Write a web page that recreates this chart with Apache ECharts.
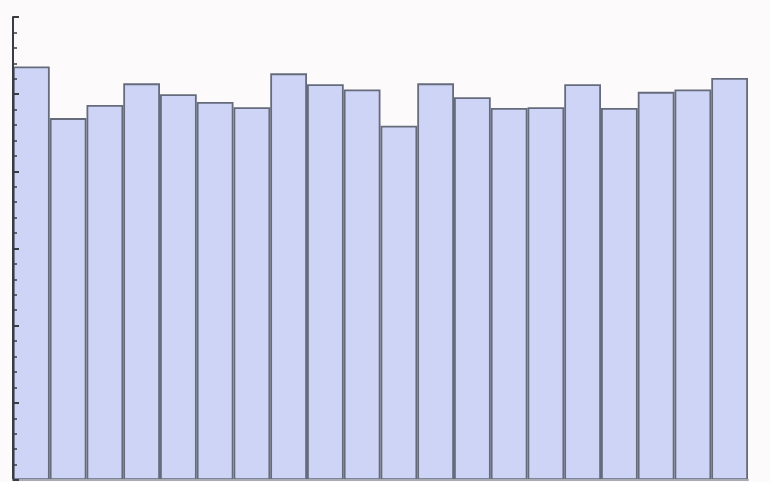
<!DOCTYPE html>
<html>
<head>
<meta charset="utf-8">
<script src="https://cdn.jsdelivr.net/npm/echarts@6/dist/echarts.min.js"></script>
<style>html,body{margin:0;padding:0;background:#fcfafa;}#c{width:770px;height:482px;}</style>
</head>
<body>
<div id="c"></div>
<script>
const categories = ['1','2','3','4','5','6','7','8','9','10','11','12','13','14','15','16','17','18','19','20'];
const counts = [53.6, 46.9, 48.6, 51.4, 50.0, 49.0, 48.3, 52.7, 51.3, 50.6, 45.9, 51.4, 49.6, 48.2, 48.3, 51.3, 48.2, 50.3, 50.6, 52.1];
const yTicks = [0, 10, 20, 30, 40, 50, 60];

const chart = echarts.init(document.getElementById('c'), null, {renderer: 'canvas'});
chart.setOption({
  backgroundColor: '#fcfafa',
  animation: false,
  grid: {left: 13, right: 22, top: 17, bottom: 2, containLabel: false},
  xAxis: {
    type: 'category',
    data: categories,
    boundaryGap: true,
    z: 10,
    axisLine: {show: true, lineStyle: {color: '#a9abb3', width: 2}},
    axisTick: {show: false},
    axisLabel: {show: false},
    splitLine: {show: false}
  },
  yAxis: {
    type: 'value',
    min: yTicks[0],
    max: yTicks[yTicks.length - 1],
    interval: 10,
    z: 10,
    axisLine: {show: true, onZero: false, lineStyle: {color: '#3a3c44', width: 2}},
    axisTick: {show: true, inside: true, length: 6, lineStyle: {color: '#3a3c44', width: 2}},
    minorTick: {show: true, splitNumber: 5, length: 4, lineStyle: {color: '#3a3c44', width: 1.5}},
    axisLabel: {show: false},
    splitLine: {show: false}
  },
  series: [{
    type: 'bar',
    data: counts,
    z: 2,
    barCategoryGap: '0%',
    itemStyle: {color: '#cdd4f6', borderColor: '#666b7c', borderWidth: 1.8}
  }]
});
</script>
</body>
</html>
